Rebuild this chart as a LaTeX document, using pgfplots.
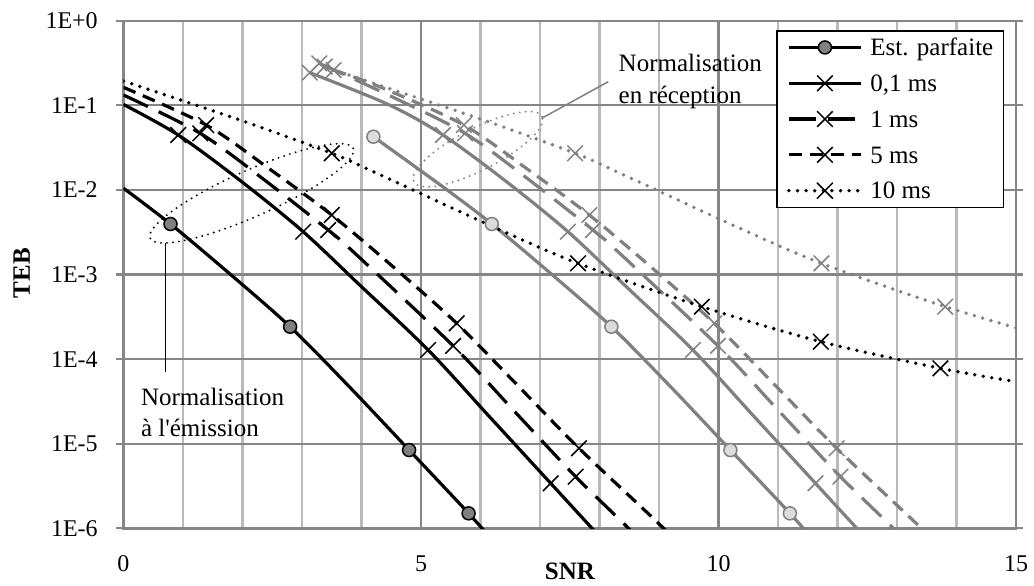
\documentclass[border=0pt]{standalone}
\usepackage{fontspec}
\setmainfont{Liberation Serif}
\usepackage{pgfplots}
\pgfplotsset{compat=1.18}
\definecolor{mygrey}{RGB}{128,128,128}
\definecolor{lgrey}{RGB}{220,220,220}
\definecolor{gridminor}{RGB}{186,186,186}
\definecolor{gridmajor}{RGB}{134,134,134}
\tikzset{
  ldash/.style={dash pattern=on 13.5pt off 6pt},
  sdash/.style={dash pattern=on 6.5pt off 4pt},
  rdot/.style={line width=1.9pt, dash pattern=on 0pt off 4.3pt, line cap=round},
}
\newcommand\annfont{\fontsize{12.5}{15}\selectfont}
\begin{document}
\begin{tikzpicture}
\begin{axis}[
  scale only axis, width=446.25pt, height=253.8pt,
  xmin=0, xmax=15, ymin=1e-6, ymax=1, ymode=log, log basis y=10,
  xtick={0,5,10,15}, xticklabels={0,5,10,15},
  minor xtick={1,2,3,4,6,7,8,9,11,12,13,14},
  ytick={1e-6,1e-5,1e-4,1e-3,1e-2,1e-1,1},
  yticklabels={1E-6,1E-5,1E-4,1E-3,1E-2,1E-1,1E+0},
  xmajorgrids, xminorgrids, ymajorgrids, yminorgrids,
  major grid style={draw=gridmajor, line width=1.1pt},
  minor grid style={draw=gridminor, line width=1.05pt},
  axis line style={draw=gridmajor, line width=1.2pt},
  tick align=outside, major tick length=3.5pt, minor tick length=0pt,
  xtick style={draw=none},
  ytick style={draw=gridmajor, line width=1.1pt},
  ticklabel style={font=\fontsize{12}{14}\selectfont},
  xticklabel style={anchor=base, inner sep=0pt, yshift=-18.2pt},
  yticklabel style={anchor=east, inner sep=0pt, xshift=-9.2pt},
  legend cell align=left,
  legend style={at={(rel axis cs:0.9866,0.9817)}, anchor=north east, draw=black, line width=0.75pt, fill=white,
    inner xsep=5pt, inner ysep=2.5pt, row sep=6.2pt, column sep=3.8pt,
    font=\annfont, nodes={inner sep=0pt, text height=10pt, text depth=1.7pt}},
  legend image code/.code={\draw[mark repeat=2,mark phase=2,#1] plot coordinates {(0pt,0pt) (18pt,0pt) (36pt,0pt)};},
]
% legend
\addlegendimage{black, line width=1.6pt, mark=*, mark size=3.25pt, mark options={solid, fill=mygrey, draw=black, line width=0.75pt}}
\addlegendentry{Est. parfaite}
\addlegendimage{black, line width=1.6pt, mark=x, mark size=5.5pt, mark options={solid, line width=0.75pt}}
\addlegendentry{0,1 ms}
\addlegendimage{black, line width=1.6pt, ldash, mark=x, mark size=5.5pt, mark options={solid, line width=0.75pt}}
\addlegendentry{1 ms}
\addlegendimage{black, line width=1.6pt, sdash, mark=x, mark size=5.5pt, mark options={solid, line width=0.75pt}}
\addlegendentry{5 ms}
\addlegendimage{black, line width=1.6pt, rdot, mark=x, mark size=5.5pt, mark options={solid, line width=0.75pt}}
\addlegendentry{10 ms}

% ---------- grey series (normalisation en reception) ----------
\addplot[mygrey, line width=1.6pt, smooth, forget plot] coordinates {
(4.2,4.256e-2) (5.4,1.047e-2) (6.19,3.954e-3) (7.2,1e-3) (8.2,2.415e-4) (9.2,4.677e-5) (10.2,8.414e-6) (11.2,1.503e-6) (11.8,5.012e-7)};
\addplot[only marks, mark=*, mark size=3.25pt, mark options={fill=lgrey, draw=mygrey, line width=0.75pt}, forget plot] coordinates {
(4.2,4.256e-2) (6.19,3.954e-3) (8.2,2.415e-4) (10.2,8.414e-6) (11.2,1.503e-6)};

\addplot[mygrey, line width=1.6pt, smooth, forget plot] coordinates {
(3.13,2.432e-1) (4.45,1.023e-1) (5.37,4.457e-2) (6.45,1.230e-2) (7.47,3.206e-3) (8.42,7.516e-4) (9.57,1.282e-4) (10.6,2.089e-5) (11.63,3.404e-6) (12.65,5.623e-7)};
\addplot[only marks, mark=x, mark size=5.5pt, mygrey, mark options={line width=0.75pt}, forget plot] coordinates {
(3.13,2.432e-1) (5.37,4.457e-2) (7.47,3.206e-3) (9.57,1.282e-4) (11.63,3.404e-6)};

\addplot[mygrey, line width=1.6pt, ldash, smooth, forget plot] coordinates {
(3.29,3.133e-1) (4.45,1.324e-1) (5.74,4.667e-2) (6.815,1.318e-2) (7.89,3.357e-3) (8.31,1.862e-3) (9.99,1.435e-4) (11.02,2.415e-5) (12.05,4.074e-6) (12.91,1.047e-6) (13.25,5.754e-7)};
\addplot[only marks, mark=x, mark size=5.5pt, mygrey, mark options={line width=0.75pt}, forget plot] coordinates {
(3.29,3.133e-1) (5.74,4.667e-2) (7.89,3.357e-3) (9.99,1.435e-4) (12.05,4.074e-6)};

\addplot[mygrey, line width=1.6pt, sdash, smooth, forget plot] coordinates {
(3.53,2.612e-1) (4.33,1.629e-1) (5.72,5.848e-2) (6.78,1.778e-2) (7.83,5.047e-3) (8.88,1.202e-3) (9.93,2.649e-4) (10.96,4.842e-5) (11.985,8.831e-6) (13.32,1.148e-6) (13.63,6.761e-7)};
\addplot[only marks, mark=x, mark size=5.5pt, mygrey, mark options={line width=0.75pt}, forget plot] coordinates {
(3.53,2.612e-1) (5.72,5.848e-2) (7.83,5.047e-3) (9.93,2.649e-4) (11.985,8.831e-6)};

\addplot[mygrey, rdot, smooth, forget plot] coordinates {
(3.38,2.864e-1) (4.09,1.936e-1) (6.05,6.699e-2) (7.59,2.710e-2) (8.23,1.718e-2) (10.30,3.673e-3) (11.73,1.355e-3) (13.81,4.169e-4) (15.81,1.607e-4)};
\addplot[only marks, mark=x, mark size=5.5pt, mygrey, mark options={line width=0.75pt}, forget plot] coordinates {
(3.38,2.864e-1) (7.59,2.710e-2) (11.73,1.355e-3) (13.81,4.169e-4)};

% ---------- black series (normalisation a l'emission) ----------
\addplot[black, line width=1.6pt, smooth, forget plot] coordinates {
(0,1.047e-2) (0.79,3.954e-3) (1.8,1e-3) (2.8,2.415e-4) (3.8,4.677e-5) (4.8,8.414e-6) (5.8,1.503e-6) (6.4,5.012e-7)};
\addplot[only marks, mark=*, mark size=3.25pt, mark options={fill=mygrey, draw=black, line width=0.75pt}, forget plot] coordinates {
(0.79,3.954e-3) (2.8,2.415e-4) (4.8,8.414e-6) (5.8,1.503e-6)};

\addplot[black, line width=1.6pt, smooth, forget plot] coordinates {
(0,1.023e-1) (0.92,4.457e-2) (2.0,1.230e-2) (3.02,3.206e-3) (3.97,7.516e-4) (5.12,1.282e-4) (6.15,2.089e-5) (7.18,3.404e-6) (8.2,5.623e-7)};
\addplot[only marks, mark=x, mark size=5.5pt, black, mark options={line width=0.75pt}, forget plot] coordinates {
(0.92,4.457e-2) (3.02,3.206e-3) (5.12,1.282e-4) (7.18,3.404e-6)};

\addplot[black, line width=1.6pt, ldash, smooth, forget plot] coordinates {
(0,1.324e-1) (1.29,4.667e-2) (2.365,1.318e-2) (3.44,3.357e-3) (3.86,1.862e-3) (5.54,1.435e-4) (6.57,2.415e-5) (7.60,4.074e-6) (8.46,1.047e-6) (8.8,5.754e-7)};
\addplot[only marks, mark=x, mark size=5.5pt, black, mark options={line width=0.75pt}, forget plot] coordinates {
(1.29,4.667e-2) (3.44,3.357e-3) (5.54,1.435e-4) (7.60,4.074e-6)};

\addplot[black, line width=1.6pt, sdash, smooth, forget plot] coordinates {
(0,1.629e-1) (1.39,5.848e-2) (2.45,1.778e-2) (3.50,5.047e-3) (4.55,1.202e-3) (5.60,2.649e-4) (6.63,4.842e-5) (7.655,8.831e-6) (8.99,1.148e-6) (9.3,6.761e-7)};
\addplot[only marks, mark=x, mark size=5.5pt, black, mark options={line width=0.75pt}, forget plot] coordinates {
(1.39,5.848e-2) (3.50,5.047e-3) (5.60,2.649e-4) (7.655,8.831e-6)};

\addplot[black, rdot, smooth, forget plot] coordinates {
(0,1.936e-1) (1.96,6.699e-2) (3.50,2.710e-2) (4.14,1.718e-2) (6.21,3.673e-3) (7.64,1.355e-3) (9.72,4.169e-4) (11.72,1.607e-4) (13.73,7.78e-5) (15,5.408e-5)};
\addplot[only marks, mark=x, mark size=5.5pt, black, mark options={line width=0.75pt}, forget plot] coordinates {
(3.50,2.710e-2) (7.64,1.355e-3) (9.72,4.169e-4) (11.72,1.607e-4) (13.73,7.78e-5)};
\end{axis}
% annotations
\draw[black, line width=1.05pt, dash pattern=on 0pt off 3pt, line cap=round, rotate around={23.9:(64.1pt,167.5pt)}] (64.1pt,167.5pt) ellipse [x radius=55.5pt, y radius=11.5pt];
\draw[mygrey, line width=1.05pt, dash pattern=on 0pt off 3pt, line cap=round, rotate around={27:(177.25pt,189.55pt)}] (177.25pt,189.55pt) ellipse [x radius=36pt, y radius=10.5pt];
\draw[black, line width=0.75pt] (21.1pt,142.6pt) -- (21.1pt,78.3pt);
\draw[mygrey, line width=0.75pt] (209.1pt,205pt) -- (242.4pt,223.3pt);
\node[anchor=base west, inner sep=0pt, font=\annfont] at (8.6pt,61.65pt) {Normalisation};
\node[anchor=base west, inner sep=0pt, font=\annfont] at (8.6pt,45.8pt) {à l\textquotesingle émission};
\node[anchor=base west, inner sep=0pt, font=\annfont] at (247.4pt,228.3pt) {Normalisation};
\node[anchor=base west, inner sep=0pt, font=\annfont] at (247.4pt,212.5pt) {en réception};
\node[rotate=90, inner sep=0pt, font=\bfseries\annfont] at (-50.9pt,127.65pt) {TEB};
\node[anchor=base, inner sep=0pt, font=\bfseries\annfont] at (223.25pt,-25.6pt) {SNR};
\pgfresetboundingbox
\useasboundingbox (-61.75pt,-28.35pt) rectangle (455.25pt,264.15pt);
\end{tikzpicture}
\end{document}
